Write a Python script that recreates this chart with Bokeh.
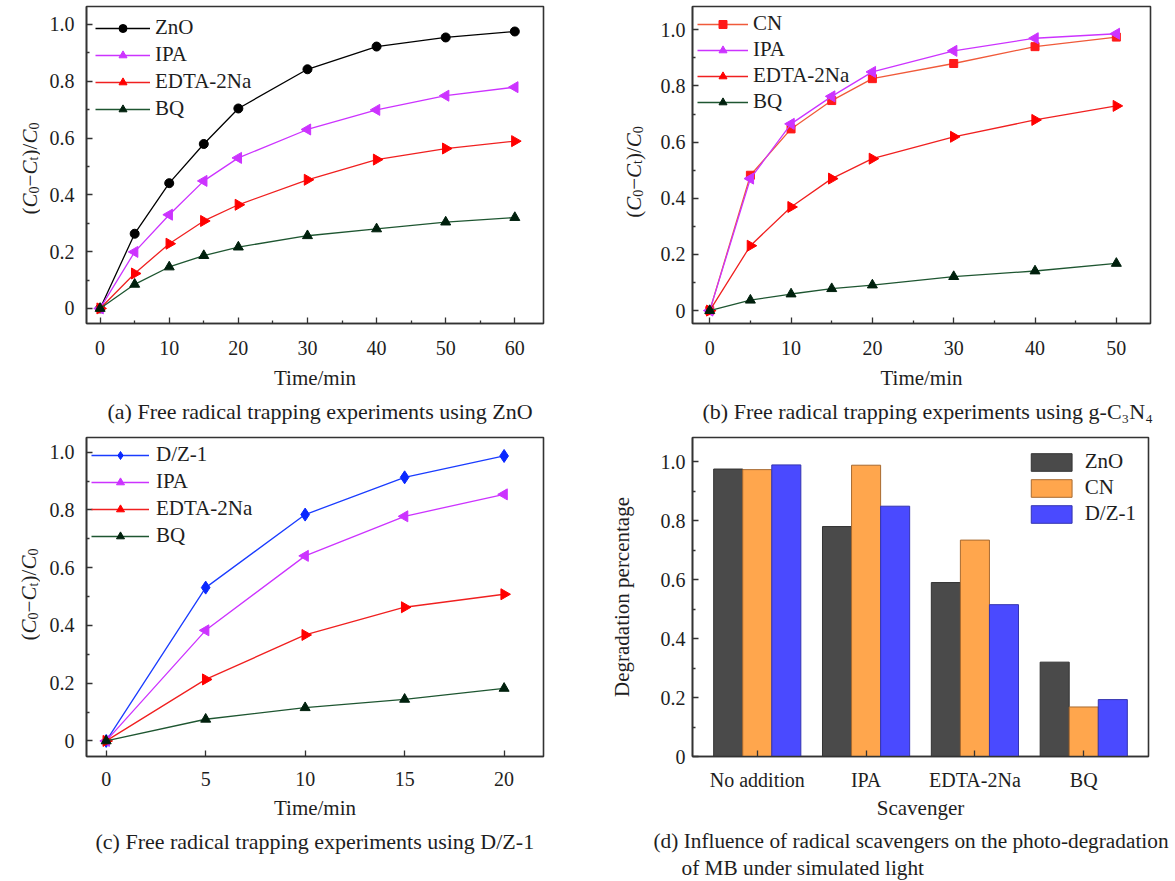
import math
from bokeh.plotting import figure
from bokeh.models import FixedTicker, Title, FactorRange, Range1d
from bokeh.layouts import column, row
from bokeh.transform import dodge
from bokeh.core.properties import value
from bokeh.embed import file_html
from bokeh.resources import INLINE

FONT = "Liberation Serif"
INK = "#1e1e1e"
FRAME = "#333333"

# ---------------- data ----------------
time_a = [0, 5, 10, 15, 20, 30, 40, 50, 60]
zno_a = [0, 0.263, 0.441, 0.579, 0.704, 0.842, 0.922, 0.954, 0.975]
ipa_a = [0, 0.199, 0.330, 0.449, 0.530, 0.630, 0.699, 0.749, 0.779]
edta_a = [0, 0.123, 0.228, 0.308, 0.365, 0.453, 0.524, 0.563, 0.589]
bq_a = [0, 0.085, 0.146, 0.186, 0.216, 0.256, 0.280, 0.304, 0.320]

time_b = [0, 5, 10, 15, 20, 30, 40, 50]
cn_b = [0, 0.482, 0.647, 0.748, 0.826, 0.880, 0.940, 0.974]
ipa_b = [0, 0.470, 0.665, 0.763, 0.850, 0.925, 0.970, 0.986]
edta_b = [0, 0.231, 0.369, 0.470, 0.541, 0.619, 0.679, 0.729]
bq_b = [0, 0.037, 0.059, 0.078, 0.091, 0.121, 0.141, 0.168]

time_c = [0, 5, 10, 15, 20]
dz_c = [0, 0.531, 0.784, 0.913, 0.987]
ipa_c = [0, 0.383, 0.641, 0.778, 0.854]
edta_c = [0, 0.213, 0.367, 0.463, 0.508]
bq_c = [0, 0.075, 0.115, 0.144, 0.182]

scavengers = ["No addition", "IPA", "EDTA-2Na", "BQ"]
zno_d = [0.975, 0.780, 0.590, 0.320]
cn_d = [0.973, 0.988, 0.734, 0.168]
dz_d = [0.989, 0.849, 0.515, 0.193]

y_ticks = [0, 0.2, 0.4, 0.6, 0.8, 1.0]
y_tick_labels = ["0", "0.2", "0.4", "0.6", "0.8", "1.0"]
y_minor_ticks = [0.1, 0.3, 0.5, 0.7, 0.9]
x_ticks_a = [0, 10, 20, 30, 40, 50, 60]
x_minor_a = [5, 15, 25, 35, 45, 55]
x_ticks_b = [0, 10, 20, 30, 40, 50]
x_minor_b = [5, 15, 25, 35, 45]
x_ticks_c = [0, 5, 10, 15, 20]

caption_a = "(a) Free radical trapping experiments using ZnO"
caption_b = "(b) Free radical trapping experiments using g-C\u2083N\u2084"
caption_c = "(c) Free radical trapping experiments using D/Z-1"
caption_d1 = "(d) Influence of radical scavengers on the photo-degradation"
caption_d2 = "of MB under simulated light"

# (C0 - Ct)/C0 label pieces: text, style, subscript, advance width (px)
ylabel_pieces = [("(", "normal", False, 7.0), ("C", "italic", False, 14.0),
                 ("0", "normal", True, 7.0), ("\u2212", "normal", False, 11.8),
                 ("C", "italic", False, 14.0), ("t", "normal", True, 4.2),
                 (")/", "normal", False, 12.8), ("C", "italic", False, 14.0),
                 ("0", "normal", True, 7.0)]


def style(p, y_standoff, s1, s2):
    p.xgrid.visible = False
    p.ygrid.visible = False
    p.outline_line_color = FRAME
    p.outline_line_width = 1.6
    p.outline_line_alpha = 1.0
    p.background_fill_color = "white"
    p.border_fill_color = "white"
    for ax in p.axis:
        ax.axis_line_color = FRAME
        ax.axis_line_width = 1.6
        ax.major_tick_in = 6
        ax.major_tick_out = 0
        ax.minor_tick_in = 3
        ax.minor_tick_out = 0
        ax.major_tick_line_color = FRAME
        ax.major_tick_line_width = 1.3
        ax.minor_tick_line_color = FRAME
        ax.minor_tick_line_width = 1.3
        ax.major_label_text_font = FONT
        ax.major_label_text_font_size = "20px"
        ax.major_label_text_color = INK
        ax.axis_label_text_font = FONT
        ax.axis_label_text_font_size = "21px"
        ax.axis_label_text_font_style = "normal"
        ax.axis_label_text_color = INK
    p.xaxis.major_label_standoff = s1
    p.xaxis.axis_label_standoff = s2
    p.yaxis.major_label_standoff = y_standoff


def y_axis_ticks(p):
    p.yaxis.ticker = FixedTicker(ticks=y_ticks, minor_ticks=y_minor_ticks)
    p.yaxis.major_label_overrides = dict(zip(y_ticks, y_tick_labels))


def series(p, x, y, label, line_color, marker, fill, size, angle=0.0):
    p.line(x, y, line_color=line_color, line_width=1.3, legend_label=label)
    p.scatter(x, y, marker=marker, size=size, angle=angle, fill_color=fill,
              line_color=fill, legend_label=label)


def legend_style(p, location, margin, spacing, glyph_w, glyph_h, standoff):
    lg = p.legend[0]
    lg.location = location
    lg.margin = margin
    lg.padding = 0
    lg.spacing = spacing
    lg.glyph_width = glyph_w
    lg.glyph_height = glyph_h
    lg.label_height = glyph_h
    lg.label_standoff = standoff
    lg.label_text_font = FONT
    lg.label_text_font_size = "21px"
    lg.label_text_color = INK
    lg.border_line_alpha = 0
    lg.background_fill_alpha = 0


def caption(p, text, offset, standoff, size="22px"):
    p.add_layout(Title(text=text, align="left", offset=offset, standoff=standoff,
                       text_font=FONT, text_font_size=size, text_font_style="normal",
                       text_color=INK), "below")


def ylabel_spacer(w, h, top, bottom, bx, cy):
    f = figure(width=w, height=h, x_range=Range1d(0, w), y_range=Range1d(bottom, h - top),
               x_axis_type=None, y_axis_type=None, output_backend="svg",
               toolbar_location=None, min_border_left=0, min_border_right=0,
               min_border_top=top, min_border_bottom=bottom)
    f.outline_line_color = None
    f.background_fill_color = "white"
    f.border_fill_color = "white"
    total = sum(wd for _, _, _, wd in ylabel_pieces)
    cum = cy - total / 2
    for txt, st, sub, wd in ylabel_pieces:
        f.text(x=[bx + (4 if sub else 0)], y=[cum], text=[txt], angle=math.pi / 2,
               text_font=value(FONT), text_font_size=value("14px" if sub else "21px"),
               text_font_style=value(st), text_align="left",
               text_baseline="alphabetic", text_color=INK)
        cum += wd
    return f


# ---------------- (a) ----------------
pa = figure(width=550, height=428, x_range=Range1d(-1.97, 64.15), y_range=Range1d(-0.053, 1.063),
            output_backend="svg", toolbar_location=None,
            min_border_left=46, min_border_right=47, min_border_top=6, min_border_bottom=105)
series(pa, time_a, zno_a, "ZnO", "#000000", "circle", "#000000", 9)
series(pa, time_a, ipa_a, "IPA", "#cc33ff", "triangle", "#cc33ff", 11, math.pi / 2)
series(pa, time_a, edta_a, "EDTA-2Na", "#f02020", "triangle", "#ff0000", 11, -math.pi / 2)
series(pa, time_a, bq_a, "BQ", "#1e5631", "triangle", "#00200d", 10)
style(pa, 12, 17, 8)
pa.xaxis.ticker = FixedTicker(ticks=x_ticks_a, minor_ticks=x_minor_a)
y_axis_ticks(pa)
pa.xaxis.axis_label = "Time/min"
legend_style(pa, "top_left", 9, 2, 55, 20, 5)
caption(pa, caption_a, 21, 8)
sa = ylabel_spacer(40, 428, 6, 105, 29, 260)

# ---------------- (b) ----------------
pb = figure(width=525, height=428, x_range=Range1d(-2.12, 54.2), y_range=Range1d(-0.046, 1.083),
            output_backend="svg", toolbar_location=None,
            min_border_left=42, min_border_right=25, min_border_top=5, min_border_bottom=105)
series(pb, time_b, cn_b, "CN", "#f05a3a", "square", "#ff1a1a", 8)
series(pb, time_b, ipa_b, "IPA", "#cc33ff", "triangle", "#cc33ff", 11, math.pi / 2)
series(pb, time_b, edta_b, "EDTA-2Na", "#f02020", "triangle", "#ff0000", 11, -math.pi / 2)
series(pb, time_b, bq_b, "BQ", "#1e5631", "triangle", "#00200d", 10)
style(pb, 7, 17, 8)
pb.xaxis.ticker = FixedTicker(ticks=x_ticks_b, minor_ticks=x_minor_b)
y_axis_ticks(pb)
pb.xaxis.axis_label = "Time/min"
legend_style(pb, "top_left", 5, 1, 51, 20, 5)
caption(pb, caption_b, 10, 8)
sb = ylabel_spacer(60, 428, 5, 105, 43, 257)

# ---------------- (c) ----------------
pc = figure(width=550, height=453, x_range=Range1d(-0.99, 21.98), y_range=Range1d(-0.054, 1.051),
            output_backend="svg", toolbar_location=None,
            min_border_left=46, min_border_right=47, min_border_top=9, min_border_bottom=125)
series(pc, time_c, dz_c, "D/Z-1", "#1a3cff", "diamond", "#0a28ff", 13)
series(pc, time_c, ipa_c, "IPA", "#cc33ff", "triangle", "#cc33ff", 11, math.pi / 2)
series(pc, time_c, edta_c, "EDTA-2Na", "#f02020", "triangle", "#ff0000", 11, -math.pi / 2)
series(pc, time_c, bq_c, "BQ", "#1e5631", "triangle", "#00200d", 10)
style(pc, 12, 15, 7)
pc.xaxis.ticker = FixedTicker(ticks=x_ticks_c, minor_ticks=[])
y_axis_ticks(pc)
pc.xaxis.axis_label = "Time/min"
legend_style(pc, "top_left", 5, 2, 58, 20, 7)
caption(pc, caption_c, 9, 9)
sc = ylabel_spacer(40, 453, 9, 125, 28.5, 287)

# ---------------- (d) ----------------
pd_ = figure(width=585, height=453, x_range=FactorRange(factors=scavengers, range_padding=0.095,
                                                         range_padding_units="absolute"),
             y_range=Range1d(0, 1.082),
             output_backend="svg", toolbar_location=None,
             min_border_left=102, min_border_right=27, min_border_top=9, min_border_bottom=124)
src = dict(cat=scavengers, zno=zno_d, cn=cn_d, dz=dz_d)
bw = 0.267
pd_.vbar(x=dodge("cat", -bw, range=pd_.x_range), top="zno", width=bw, source=src,
         fill_color="#4a4a4a", line_color="#333333", line_width=1, legend_label="ZnO")
pd_.vbar(x=dodge("cat", 0.0, range=pd_.x_range), top="cn", width=bw, source=src,
         fill_color="#ffa64d", line_color="#a86a30", line_width=1, legend_label="CN")
pd_.vbar(x=dodge("cat", bw, range=pd_.x_range), top="dz", width=bw, source=src,
         fill_color="#4a4aff", line_color="#3434b0", line_width=1, legend_label="D/Z-1")
style(pd_, 7, 12, 2)
y_axis_ticks(pd_)
pd_.yaxis.axis_label = "Degradation percentage"
pd_.yaxis.axis_label_standoff = 24
pd_.xaxis.axis_label = "Scavenger"
legend_style(pd_, "top_right", 12, 1, 51, 22, 8)
caption(pd_, caption_d1, -39, 9, "21.3px")
caption(pd_, caption_d2, -11, -8, "21.3px")

layout = column(row(sa, pa, sb, pb), row(sc, pc, pd_))
open("out.html", "w").write(file_html(layout, INLINE))
